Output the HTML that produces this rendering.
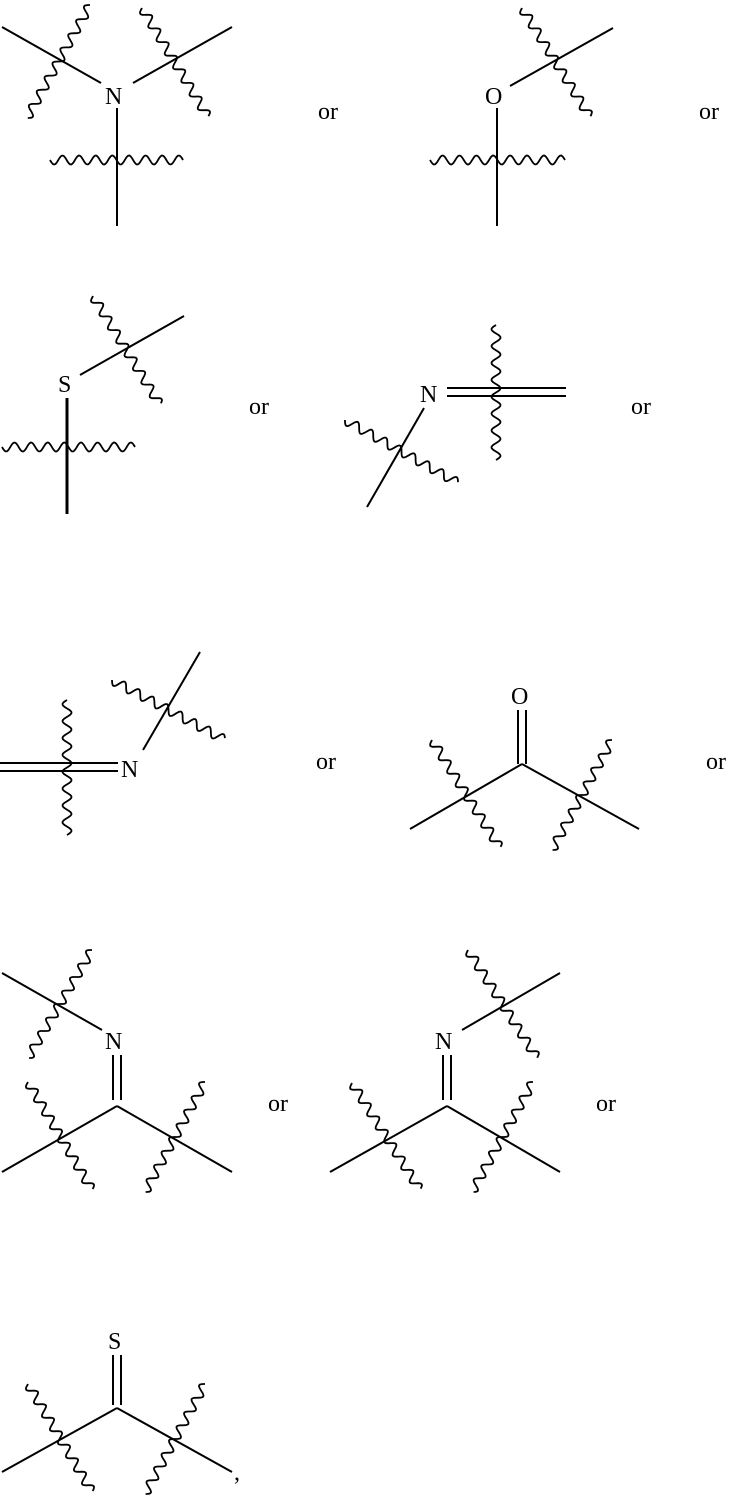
<!DOCTYPE html>
<html><head><meta charset="utf-8"><style>
html,body{margin:0;padding:0;background:#fff;}
svg{display:block;}
text{font-family:"Liberation Serif",serif;font-size:24px;fill:#000;}
</style></head><body>
<svg id="s" width="732" height="1500" viewBox="0 0 732 1500" xmlns="http://www.w3.org/2000/svg">
<g stroke="#000" stroke-width="2" fill="none" id="g">
<line x1="2" y1="27" x2="101" y2="83"/>
<line x1="133" y1="83" x2="232" y2="27"/>
<line x1="117" y1="108" x2="117" y2="226"/>
<line x1="510" y1="86" x2="613" y2="28"/>
<line x1="497" y1="108" x2="497" y2="226"/>
<line x1="80" y1="375" x2="184" y2="316"/>
<line x1="67" y1="398" x2="67" y2="514" stroke-width="3"/>
<line x1="447" y1="388" x2="566" y2="388"/>
<line x1="447" y1="396" x2="566" y2="396"/>
<line x1="424" y1="408" x2="367" y2="507"/>
<line x1="0" y1="763" x2="118" y2="763"/>
<line x1="0" y1="771" x2="118" y2="771"/>
<line x1="143" y1="750" x2="200" y2="652"/>
<line x1="518" y1="710" x2="518" y2="764"/>
<line x1="526" y1="710" x2="526" y2="764"/>
<line x1="522" y1="764" x2="410" y2="829"/>
<line x1="522" y1="764" x2="639" y2="829"/>
<line x1="2" y1="973" x2="102" y2="1030"/>
<line x1="113" y1="1055" x2="113" y2="1100"/>
<line x1="121" y1="1055" x2="121" y2="1100"/>
<line x1="117" y1="1106" x2="2" y2="1172"/>
<line x1="117" y1="1106" x2="232" y2="1172"/>
<line x1="462" y1="1030" x2="560" y2="973"/>
<line x1="443" y1="1055" x2="443" y2="1100"/>
<line x1="451" y1="1055" x2="451" y2="1100"/>
<line x1="447" y1="1106" x2="330" y2="1172"/>
<line x1="447" y1="1106" x2="560" y2="1172"/>
<line x1="113" y1="1355" x2="113" y2="1405"/>
<line x1="121" y1="1355" x2="121" y2="1405"/>
<line x1="117" y1="1408" x2="2" y2="1472"/>
<line x1="117" y1="1408" x2="232" y2="1472"/>
</g>
<text x="105" y="104">N</text>
<text x="485" y="104">O</text>
<text x="58" y="392">S</text>
<text x="420" y="402">N</text>
<text x="121" y="777">N</text>
<text x="511" y="704">O</text>
<text x="105" y="1049">N</text>
<text x="435" y="1049">N</text>
<text x="108" y="1349">S</text>
<text x="234" y="1480">,</text>
<text x="318" y="119">or</text>
<text x="699" y="119">or</text>
<text x="249" y="414">or</text>
<text x="631" y="414">or</text>
<text x="316" y="769">or</text>
<text x="706" y="769">or</text>
<text x="268" y="1111">or</text>
<text x="596" y="1111">or</text>
</svg>
<script>
var waves=[
[90,5,27,118],[142,8,208,117],[50,160,183,160],
[522,8,590,117],[430,160,565,160],
[93,296,160,405],[2,447,135,447],
[496,325,496,460],[345,420,458,483],
[67,700,67,835],[112,680,225,740],
[432,740,500,848],[612,740,552,850],
[92,950,28,1058],[28,1082,92,1190],[205,1082,145,1192],
[468,950,537,1058],[352,1083,420,1190],[533,1082,472,1192],
[28,1384,92,1492],[205,1384,145,1494]
];
var g=document.getElementById('g');
waves.forEach(function(w){
 var dx=w[2]-w[0],dy=w[3]-w[1],L=Math.sqrt(dx*dx+dy*dy);
 var ux=dx/L,uy=dy/L,nx=-uy,ny=ux,d='';
 var n=Math.round(L/16);
 for(var t=0;t<=L;t+=1){
  var a=4.5*Math.sin(t/L*n*2*Math.PI);
  var x=w[0]+ux*t+nx*a,y=w[1]+uy*t+ny*a;
  d+=(t?'L':'M')+x.toFixed(1)+' '+y.toFixed(1);
 }
 var p=document.createElementNS('http://www.w3.org/2000/svg','path');
 p.setAttribute('d',d);p.setAttribute('stroke-width','1.8');
 g.appendChild(p);
});
</script>
</body></html>
